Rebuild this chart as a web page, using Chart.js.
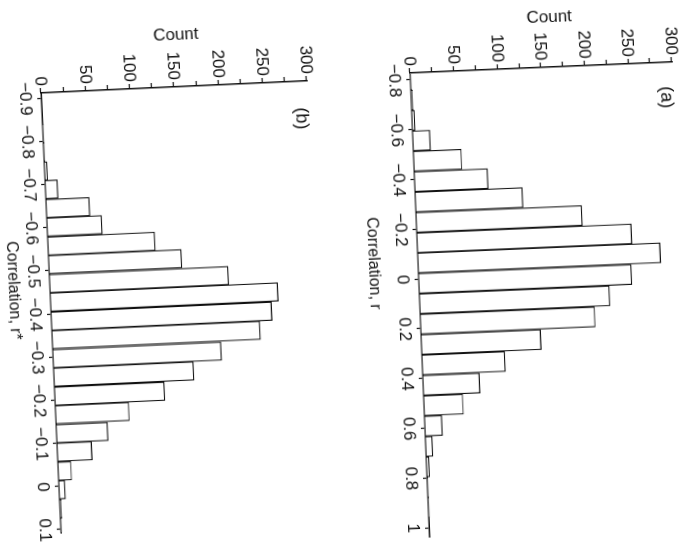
<!DOCTYPE html>
<html>
<head>
<meta charset="utf-8">
<title>Correlation histograms</title>
<script src="https://cdn.jsdelivr.net/npm/chart.js@4.4.0/dist/chart.umd.min.js"></script>
<style>
  html, body { margin: 0; padding: 0; background: #fff; width: 688px; height: 543px; overflow: hidden; position: relative; }
  .panel { position: absolute; left: 0; top: 0; }
  canvas { display: block; }
</style>
</head>
<body>
<div class="panel" id="panelB"><canvas id="chartB" width="525" height="327"></canvas></div>
<div class="panel" id="panelA"><canvas id="chartA" width="547" height="331"></canvas></div>
<script>
// (a) correlation r : bin centres and counts
const A_CENTERS = [-0.801, -0.719, -0.637, -0.555, -0.473, -0.391, -0.309, -0.227, -0.145, -0.064,
                   0.018, 0.100, 0.182, 0.264, 0.346, 0.428, 0.510, 0.592, 0.674, 0.756, 0.838, 0.919];
const A_COUNTS  = [1, 2, 3, 20, 55, 84, 123, 190, 246, 278,
                   244, 218, 200, 137, 95, 65, 45, 20, 8, 3, 1, 1];
const A_TICKS   = [-0.8, -0.6, -0.4, -0.2, 0, 0.2, 0.4, 0.6, 0.8, 1];
const A_TICK_LABELS = ['\u22120.8', '\u22120.6', '\u22120.4', '\u22120.2', '0', '0.2', '0.4', '0.6', '0.8', '1'];

// (b) correlation r* : bin centres and counts
const B_CENTERS = [-0.818, -0.775, -0.731, -0.688, -0.644, -0.601, -0.557, -0.514, -0.470, -0.427,
                   -0.383, -0.340, -0.296, -0.253, -0.209, -0.166, -0.122, -0.079, -0.035, 0.008,
                   0.052, 0.095];
const B_COUNTS  = [1, 1, 3, 14, 49, 62, 121, 150, 202, 257,
                   249, 235, 190, 158, 124, 83, 58, 39, 15, 7,
                   2, 1];
const B_TICKS   = [-0.9, -0.8, -0.7, -0.6, -0.5, -0.4, -0.3, -0.2, -0.1, 0, 0.1];
const B_TICK_LABELS = ['\u22120.9', '\u22120.8', '\u22120.7', '\u22120.6', '\u22120.5', '\u22120.4',
                       '\u22120.3', '\u22120.2', '\u22120.1', '0', '0.1'];

// shared count axis
const COUNT_TICKS  = [0, 25, 50, 75, 100, 125, 150, 175, 200, 225, 250, 275, 300];
const COUNT_LABELS = ['0', '', '50', '', '100', '', '150', '', '200', '', '250', '', '300'];

const INK = '#111';
const FONT = "'Liberation Sans', Arial, Helvetica, sans-serif";

// axis titles and the panel tag are placed by hand, the titles sit a little off-centre
const annotate = o => ({
  id: 'annotate',
  afterDraw(c){
    const ctx = c.ctx, x = c.scales.x, y = c.scales.y, a = c.chartArea;
    ctx.save();
    ctx.fillStyle = INK;
    ctx.textAlign = 'center';
    ctx.textBaseline = 'middle';

    ctx.font = '16px ' + FONT;
    ctx.fillText(o.xTitle, x.getPixelForValue(o.xTitleAt), a.bottom + o.xTitleGap);

    ctx.save();
    ctx.font = '17px ' + FONT;
    ctx.translate(a.left - o.yTitleGap, y.getPixelForValue(o.yTitleAt));
    ctx.rotate(-Math.PI / 2);
    ctx.fillText('Count', 0, 0);
    ctx.restore();

    ctx.font = '18px ' + FONT;
    ctx.fillText(o.tag, x.getPixelForValue(o.tagAt[0]), y.getPixelForValue(o.tagAt[1]));
    ctx.restore();
  }
});

function histogram(id, o){
  const canvas = document.getElementById(id);
  return new Chart(canvas, {
    type: 'bar',
    data: {
      datasets: [{
        data: o.centers.map((x, i) => ({x, y: o.counts[i]})),
        backgroundColor: '#fff',
        borderColor: INK,
        borderWidth: 1.2,
        barPercentage: 1,
        categoryPercentage: 1
      }]
    },
    options: {
      responsive: false,
      animation: false,
      devicePixelRatio: 1,
      layout: { padding: { top: 12, right: 20, left: 0, bottom: 0 } },
      plugins: { legend: { display: false }, tooltip: { enabled: false } },
      scales: {
        x: {
          type: 'linear', min: o.min, max: o.max, offset: false,
          afterBuildTicks: s => { s.ticks = o.ticks.map(v => ({value: v})); },
          afterFit: s => { s.height = o.xBox; },
          grid: { offset: false, drawOnChartArea: false, color: INK, tickLength: 4, tickWidth: 1.2 },
          border: { color: INK, width: 1.5 },
          ticks: { callback: (v, i) => o.labels[i], font: { family: FONT, size: 17 }, color: INK,
                   padding: 2, maxRotation: 0, autoSkip: false }
        },
        y: {
          min: 0, max: 300,
          afterBuildTicks: s => { s.ticks = COUNT_TICKS.map(v => ({value: v})); },
          afterFit: s => { s.width = o.yBox; },
          grid: { drawOnChartArea: false, color: INK, tickLength: 5, tickWidth: 1.2 },
          border: { color: INK, width: 1.5 },
          ticks: { callback: (v, i) => COUNT_LABELS[i], font: { family: FONT, size: 17 }, color: INK,
                   padding: 2, autoSkip: false }
        }
      }
    },
    plugins: [annotate(o)]
  });
}

// turn a panel so its plot origin sits at `at`, count running right and correlation running down
function place(chart, panelId, at, deg){
  const a = chart.chartArea;
  const el = document.getElementById(panelId);
  el.style.left = (at[0] - a.left) + 'px';
  el.style.top = (at[1] - a.bottom) + 'px';
  el.style.transformOrigin = a.left + 'px ' + a.bottom + 'px';
  el.style.transform = 'rotate(' + deg + 'deg)';
}

const chartA = histogram('chartA', {
  centers: A_CENTERS, counts: A_COUNTS, ticks: A_TICKS, labels: A_TICK_LABELS,
  min: -0.828, max: 1.036, xBox: 57, yBox: 63,
  xTitle: 'Correlation, r', xTitleAt: -0.07, xTitleGap: 45,
  yTitleAt: 162, yTitleGap: 49.5,
  tag: '(a)', tagAt: [-0.687, 292]
});
const chartB = histogram('chartB', {
  centers: B_CENTERS, counts: B_COUNTS, ticks: B_TICKS, labels: B_TICK_LABELS,
  min: -0.912, max: 0.107, xBox: 49, yBox: 65,
  xTitle: 'Correlation, r*', xTitleAt: -0.458, xTitleGap: 37,
  yTitleAt: 155, yTitleGap: 52,
  tag: '(b)', tagAt: [-0.826, 292]
});

place(chartA, 'panelA', [410, 73], 87.6);
place(chartB, 'panelB', [40.7, 92.7], 87.4);
</script>
</body>
</html>
